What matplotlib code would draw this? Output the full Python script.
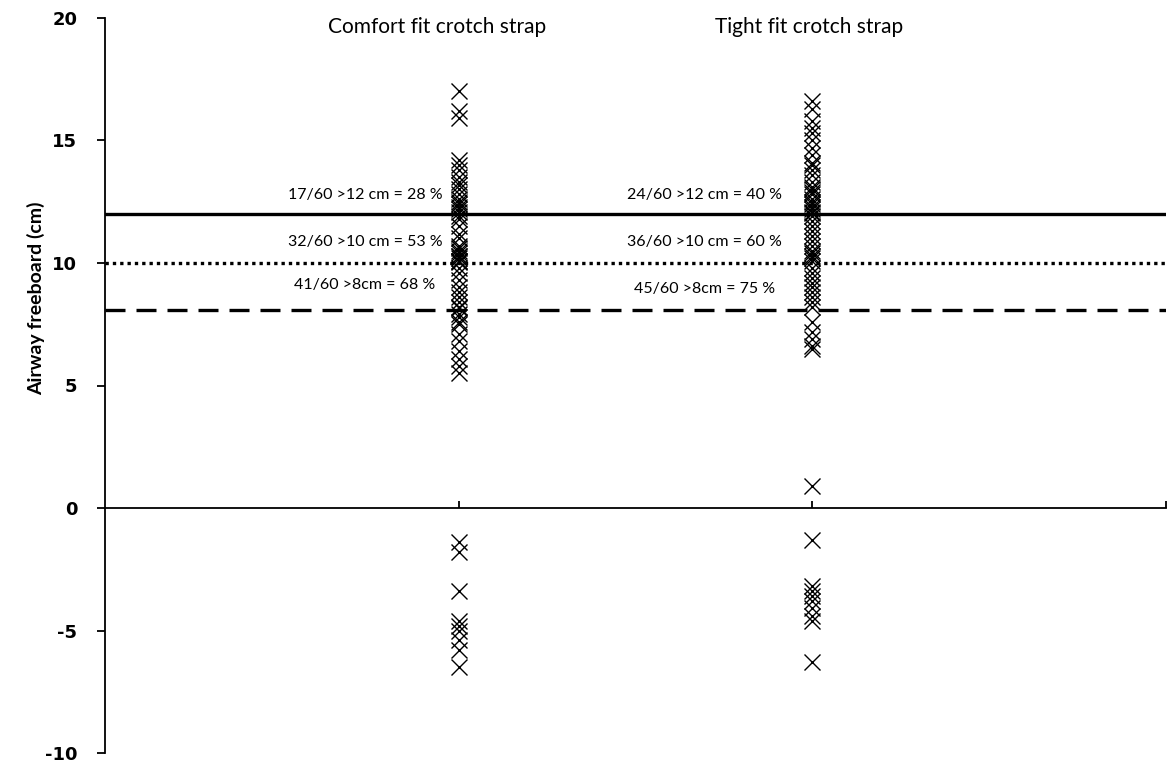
import matplotlib
matplotlib.use("Agg")
import matplotlib.pyplot as plt

plt.rcParams["axes.unicode_minus"] = False

# airway freeboard (cm) per test, 60 per condition
comfort = [17.0, 16.2, 15.9, 14.2, 14.0, 13.8, 13.5, 13.3, 13.2, 13.0, 12.8, 12.6,
           12.5, 12.4, 12.3, 12.2, 12.1,
           11.9, 11.8, 11.5, 11.2, 11.0, 10.7, 10.6, 10.5, 10.4, 10.3, 10.3, 10.2,
           10.1, 10.1, 10.05,
           9.8, 9.6, 9.3, 9.0, 8.8, 8.6, 8.4, 8.2, 8.15,
           7.9, 7.8, 7.6, 7.5, 7.1, 6.8, 6.4, 6.1, 5.8, 5.5,
           -1.4, -1.8, -3.4, -4.6, -4.8, -5.0, -5.4, -5.8, -6.5]
tight = [16.6, 16.3, 15.8, 15.5, 15.3, 15.0, 14.7, 14.4, 14.1, 14.0, 13.8, 13.6,
         13.3, 13.1, 13.0, 12.9, 12.8, 12.6, 12.5, 12.4, 12.3, 12.2, 12.1, 12.05,
         11.9, 11.7, 11.5, 11.3, 11.1, 10.9, 10.7, 10.5, 10.4, 10.3, 10.2, 10.1,
         9.8, 9.6, 9.4, 9.2, 9.0, 8.8, 8.6, 8.4, 8.2,
         7.6, 7.2, 6.9, 6.6, 6.5, 0.9,
         -1.3, -3.2, -3.4, -3.6, -3.8, -4.1, -4.4, -4.6, -6.3]
groups = ["Comfort fit crotch strap", "Tight fit crotch strap"]
thresholds = [12, 10, 8.1]
comfort_notes = ["17/60 >12 cm = 28 %", "32/60 >10 cm = 53 %", "41/60 >8cm = 68 %"]
tight_notes = ["24/60 >12 cm = 40 %", "36/60 >10 cm = 60 %", "45/60 >8cm = 75 %"]

fig = plt.figure(figsize=(11.69, 7.71), dpi=100)
ax = fig.add_axes([0.0898, 0.0233, 0.9076, 0.9534])

ax.plot([1] * len(comfort), comfort, ls="none", marker="x", ms=11, mew=1.0, color="black")
ax.plot([2] * len(tight), tight, ls="none", marker="x", ms=11, mew=1.0, color="black")

styles = ["-", (0, (1, 1.2)), (0, (6, 3.3))]
for y, s in zip(thresholds, styles):
    ax.axhline(y, color="black", lw=2.4, ls=s, zorder=3)

ax.set_xlim(0, 3)
ax.set_ylim(-10, 20)
ax.set_yticks(range(-10, 21, 5))
ax.set_xticks([1, 2, 3])
ax.set_xticklabels([])
ax.spines["top"].set_visible(False)
ax.spines["right"].set_visible(False)
ax.spines["bottom"].set_position(("data", 0))
ax.spines["bottom"].set_linewidth(1.3)
ax.spines["left"].set_linewidth(1.3)
ax.tick_params(axis="x", direction="in", length=5, width=1.3)
ax.tick_params(axis="y", direction="out", length=6, width=1.3, pad=14)
for lab in ax.get_yticklabels():
    lab.set_fontweight("bold")
    lab.set_fontsize(13)
    lab.set_family("DejaVu Sans")

ax.text(-0.195, 8.57, "Airway freeboard (cm)", rotation=90, ha="center", va="center",
        fontsize=14, fontweight="bold", family="Lato")

ax.text(0.939, 19.63, groups[0], ha="center", va="center", fontsize=15, family="Lato")
ax.text(1.99, 19.63, groups[1], ha="center", va="center", fontsize=15, family="Lato")

for t, y in zip(comfort_notes, [12.78, 10.86, 9.1]):
    ax.text(0.735, y, t, ha="center", va="center", fontsize=11.5, family="Lato")
for t, y in zip(tight_notes, [12.78, 10.86, 8.94]):
    ax.text(1.696, y, t, ha="center", va="center", fontsize=11.5, family="Lato")

fig.savefig("out.png", dpi=100)
